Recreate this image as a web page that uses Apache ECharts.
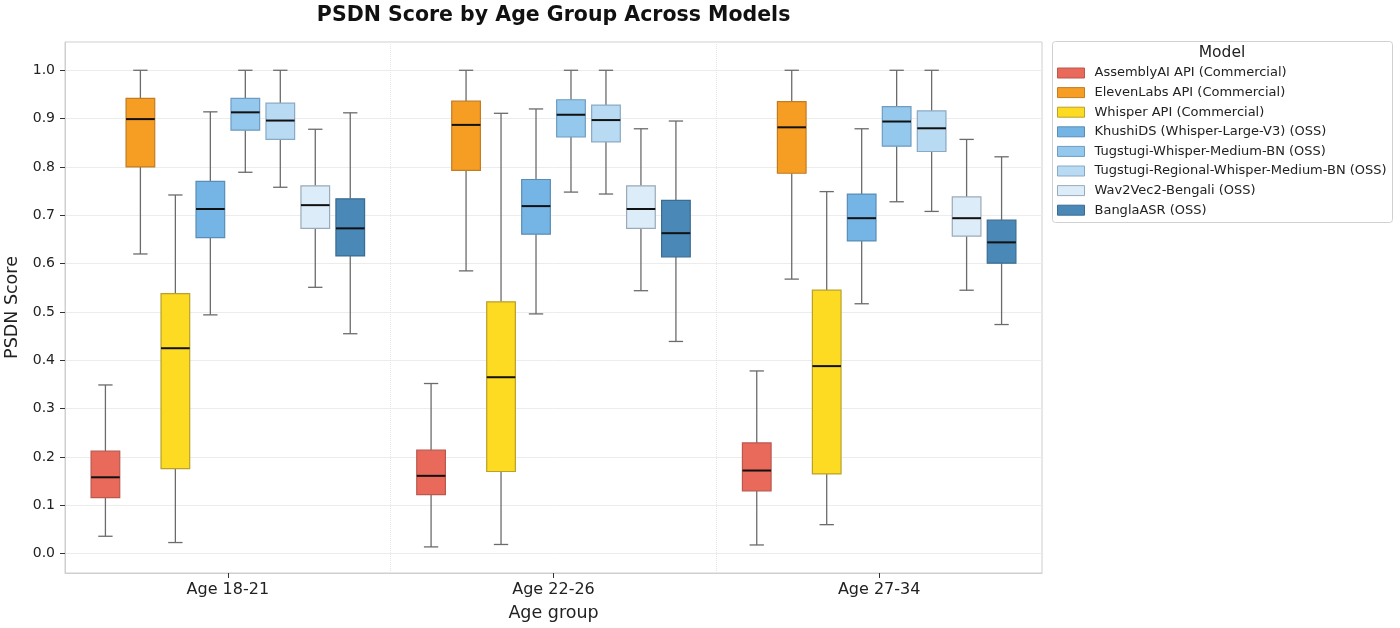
<!DOCTYPE html>
<html>
<head>
<meta charset="utf-8">
<script src="https://cdn.jsdelivr.net/npm/echarts@6/dist/echarts.min.js"></script>
<style>
    html, body { margin: 0; padding: 0; background: #fff; }
    #chart { width: 1400px; height: 628px; }
</style>
</head>
<body>
<div id="chart"></div>
<script>
// categories and tick labels
const ageGroups = ['Age 18-21', 'Age 22-26', 'Age 27-34'];
const yTicks = [0, 0.1, 0.2, 0.3, 0.4, 0.5, 0.6, 0.7, 0.8, 0.9, 1.0];

// [low whisker, Q1, median, Q3, high whisker] per age group
const assemblyAI = [[0.036, 0.116, 0.158, 0.212, 0.349], [0.014, 0.122, 0.161, 0.214, 0.352], [0.018, 0.130, 0.172, 0.229, 0.378]];
const elevenLabs = [[0.620, 0.800, 0.899, 0.942, 1.000], [0.585, 0.793, 0.887, 0.936, 1.000], [0.568, 0.787, 0.882, 0.935, 1.000]];
const whisperApi = [[0.023, 0.176, 0.425, 0.538, 0.742], [0.019, 0.170, 0.365, 0.521, 0.911], [0.060, 0.165, 0.388, 0.545, 0.749]];
const khushiDS = [[0.494, 0.654, 0.713, 0.770, 0.914], [0.496, 0.661, 0.719, 0.774, 0.920], [0.517, 0.647, 0.694, 0.744, 0.879]];
const tugstugi = [[0.789, 0.876, 0.913, 0.942, 1.000], [0.748, 0.862, 0.908, 0.939, 1.000], [0.728, 0.843, 0.894, 0.925, 1.000]];
const tugstugiRegional = [[0.758, 0.857, 0.896, 0.932, 1.000], [0.744, 0.852, 0.897, 0.928, 1.000], [0.708, 0.832, 0.880, 0.916, 1.000]];
const wav2vec = [[0.551, 0.673, 0.721, 0.761, 0.878], [0.544, 0.673, 0.713, 0.761, 0.879], [0.545, 0.657, 0.694, 0.738, 0.857]];
const banglaASR = [[0.455, 0.616, 0.673, 0.734, 0.912], [0.439, 0.614, 0.663, 0.731, 0.895], [0.474, 0.601, 0.644, 0.690, 0.821]];

const models = [
    {name: 'AssemblyAI API (Commercial)', data: assemblyAI, color: '#E9695B', edge: '#B9584E'},
    {name: 'ElevenLabs API (Commercial)', data: elevenLabs, color: '#F69D24', edge: '#C27C22'},
    {name: 'Whisper API (Commercial)', data: whisperApi, color: '#FDDB22', edge: '#B9A12A'},
    {name: 'KhushiDS (Whisper-Large-V3) (OSS)', data: khushiDS, color: '#75B5E6', edge: '#5A8DB5'},
    {name: 'Tugstugi-Whisper-Medium-BN (OSS)', data: tugstugi, color: '#95C8ED', edge: '#6F9CC0'},
    {name: 'Tugstugi-Regional-Whisper-Medium-BN (OSS)', data: tugstugiRegional, color: '#B9DAF3', edge: '#8AA9C4'},
    {name: 'Wav2Vec2-Bengali (OSS)', data: wav2vec, color: '#DCECF8', edge: '#9AAAB8'},
    {name: 'BanglaASR (OSS)', data: banglaASR, color: '#4A89B7', edge: '#3A6C92'}
];

const textColor = '#222';
const fontFamily = 'DejaVu Sans';

function renderBox(params, api) {
    const cat = api.value(0);
    const band = api.size([1, 0])[0];
    const model = models[params.seriesIndex];
    const cx = api.coord([cat, 0])[0] + (params.seriesIndex - 3.5) * band * 0.1074;
    const half = band * 0.044;
    const capHalf = half / 2;
    const y = function (i) {
        return api.coord([cat, api.value(i)])[1];
    };
    const yLow = y(1), yQ1 = y(2), yMed = y(3), yQ3 = y(4), yHigh = y(5);
    const whisker = {stroke: '#6b6b6b', lineWidth: 1.3};
    return {
        type: 'group',
        children: [
            {type: 'line', shape: {x1: cx, y1: yQ1, x2: cx, y2: yLow}, style: whisker},
            {type: 'line', shape: {x1: cx, y1: yQ3, x2: cx, y2: yHigh}, style: whisker},
            {type: 'line', shape: {x1: cx - capHalf, y1: yLow, x2: cx + capHalf, y2: yLow}, style: whisker},
            {type: 'line', shape: {x1: cx - capHalf, y1: yHigh, x2: cx + capHalf, y2: yHigh}, style: whisker},
            {
                type: 'rect',
                shape: {x: cx - half, y: yQ3, width: half * 2, height: yQ1 - yQ3},
                style: {fill: model.color, stroke: model.edge, lineWidth: 1.2}
            },
            {type: 'line', shape: {x1: cx - half, y1: yMed, x2: cx + half, y2: yMed}, style: {stroke: '#111', lineWidth: 2}}
        ]
    };
}

const chart = echarts.init(document.getElementById('chart'));

const option = {
    animation: false,
    textStyle: {fontFamily: fontFamily},
    grid: {
        left: 65,
        right: 358,
        top: 42,
        bottom: 55,
        outerBoundsMode: 'none',
        containLabel: false,
        show: true,
        borderColor: '#cfcfcf',
        borderWidth: 1
    },
    graphic: [
        {
            type: 'text',
            x: 553.6,
            y: 16,
            style: {
                text: 'PSDN Score by Age Group Across Models',
                font: 'bold 20.5px "DejaVu Sans"',
                fill: '#111',
                textAlign: 'center',
                textVerticalAlign: 'middle'
            }
        },
        {
            type: 'rect',
            shape: {x: 1052.5, y: 41.5, width: 340, height: 181, r: 3},
            style: {fill: '#fff', stroke: '#d0d0d0', lineWidth: 1},
            z: 0
        },
        {
            type: 'text',
            x: 1222,
            y: 53,
            style: {
                text: 'Model',
                font: '15.5px "DejaVu Sans"',
                fill: textColor,
                textAlign: 'center',
                textVerticalAlign: 'middle'
            },
            z: 1
        }
    ],
    legend: {
        orient: 'vertical',
        left: 1057,
        top: 66,
        padding: 0,
        itemWidth: 27,
        itemHeight: 10,
        itemGap: 5.6,
        icon: 'rect',
        selectedMode: false,
        z: 5,
        textStyle: {
            fontSize: 13,
            lineHeight: 14,
            color: textColor,
            fontFamily: fontFamily,
            padding: [0, 0, 0, 5]
        },
        data: models.map(function (m) {
            return {name: m.name, itemStyle: {color: m.color, borderColor: m.edge, borderWidth: 1}};
        })
    },
    xAxis: {
        type: 'category',
        data: ageGroups,
        boundaryGap: true,
        name: 'Age group',
        nameLocation: 'middle',
        nameGap: 31,
        nameTextStyle: {fontSize: 17.5, color: textColor},
        axisLine: {show: true, onZero: false, lineStyle: {color: '#cfcfcf'}},
        axisTick: {show: true, alignWithLabel: true, length: 5, lineStyle: {color: '#333'}},
        axisLabel: {fontSize: 16, color: textColor, margin: 9},
        splitLine: {show: true, lineStyle: {color: '#e6e6e6', type: 'dotted'}}
    },
    yAxis: {
        type: 'value',
        min: -0.04,
        max: 1.0585,
        name: 'PSDN Score',
        nameLocation: 'middle',
        nameGap: 41,
        nameTextStyle: {fontSize: 17.5, color: textColor},
        axisLine: {show: true, lineStyle: {color: '#cfcfcf'}},
        axisTick: {show: true, length: 5, lineStyle: {color: '#333'}, customValues: yTicks},
        axisLabel: {
            fontSize: 14,
            color: textColor,
            margin: 10,
            customValues: yTicks,
            formatter: function (v) {
                return v.toFixed(1);
            }
        },
        splitLine: {show: true, lineStyle: {color: '#ececec'}}
    },
    series: models.map(function (m) {
        return {
            name: m.name,
            type: 'custom',
            renderItem: renderBox,
            itemStyle: {color: m.color, borderColor: m.edge},
            encode: {x: 0, y: [1, 2, 3, 4, 5]},
            data: m.data.map(function (stats, i) {
                return [i].concat(stats);
            }),
            z: 3
        };
    })
};

chart.setOption(option);
window.addEventListener('resize', function () {
    chart.resize();
});
</script>
</body>
</html>
